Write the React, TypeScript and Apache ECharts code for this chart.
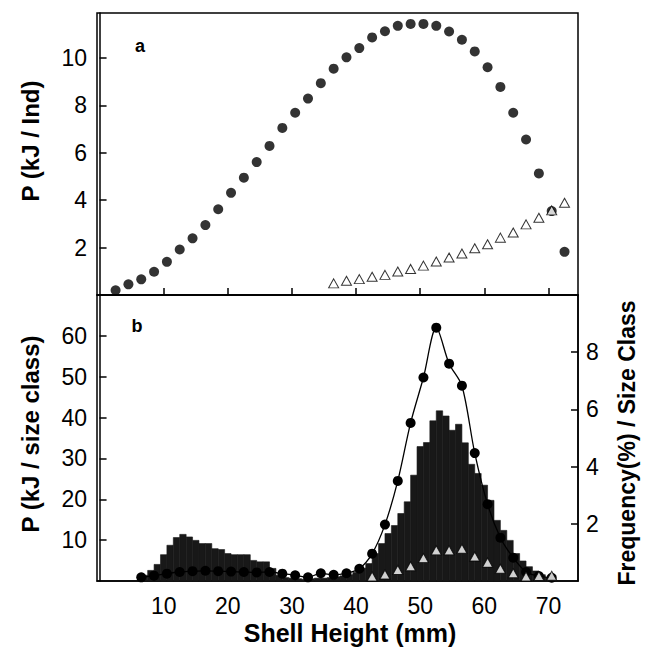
import React, { useEffect, useRef } from 'react';
import * as echarts from 'echarts';

// ---- Data ----
const xTicks = [10, 20, 30, 40, 50, 60, 70];
const topYTicks = [2, 4, 6, 8, 10];
const botLeftTicks = [10, 20, 30, 40, 50, 60];
const botRightTicks = [2, 4, 6, 8];

// Panel a: production per individual
const topCircleX = [2.5, 4.5, 6.5, 8.5, 10.5, 12.5, 14.5, 16.5, 18.5, 20.5, 22.5, 24.5, 26.5, 28.5, 30.5, 32.5, 34.5, 36.5, 38.5, 40.5, 42.5, 44.5, 46.5, 48.5, 50.5, 52.5, 54.5, 56.5, 58.5, 60.5, 62.5, 64.5, 66.5, 68.5, 70.5, 72.5];
const topCircleY = [0.2, 0.45, 0.66, 0.98, 1.4, 1.92, 2.39, 2.95, 3.62, 4.31, 4.95, 5.61, 6.29, 7.05, 7.69, 8.29, 8.94, 9.55, 10.03, 10.42, 10.87, 11.13, 11.36, 11.44, 11.44, 11.36, 11.12, 10.77, 10.28, 9.61, 8.78, 7.69, 6.56, 5.13, 3.54, 1.82];
const topTriX = [36.5, 38.5, 40.5, 42.5, 44.5, 46.5, 48.5, 50.5, 52.5, 54.5, 56.5, 58.5, 60.5, 62.5, 64.5, 66.5, 68.5, 70.5, 72.5];
const topTriY = [0.49, 0.6, 0.67, 0.77, 0.85, 0.99, 1.1, 1.24, 1.41, 1.58, 1.75, 1.97, 2.14, 2.42, 2.64, 2.98, 3.26, 3.57, 3.89];

// Panel b: production per size class (left axis)
const botCircleX = [6.5, 8.5, 10.5, 12.5, 14.5, 16.5, 18.5, 20.5, 22.5, 24.5, 26.5, 28.5, 30.5, 32.5, 34.5, 36.5, 38.5, 40.5, 42.5, 44.5, 46.5, 48.5, 50.5, 52.5, 54.5, 56.5, 58.5, 60.5, 62.5, 64.5, 66.5, 68.5, 70.5];
const botCircleY = [0.9, 1.3, 1.8, 2.2, 2.4, 2.5, 2.4, 2.3, 2.2, 2.1, 2.2, 1.8, 1.4, 0.9, 1.9, 1.5, 1.9, 3.0, 6.7, 13.8, 24.5, 38.7, 49.8, 62.0, 53.2, 47.8, 31.3, 18.8, 10.6, 5.7, 2.2, 1.2, 0.8];
const botTriX = [42.5, 44.5, 46.5, 48.5, 50.5, 52.5, 54.5, 56.5, 58.5, 60.5, 62.5, 64.5, 66.5, 68.5, 70.5];
const botTriY = [1.1, 1.6, 2.7, 3.6, 5.6, 7.5, 7.5, 7.9, 6.0, 4.5, 3.0, 1.9, 1.1, 1.2, 1.3];

// Frequency histogram (right axis, %), 1-mm size classes
const histBins = [7, 8, 9, 10, 11, 12, 13, 14, 15, 16, 17, 18, 19, 20, 21, 22, 23, 24, 25, 26, 27, 28, 29, 30, 31, 32, 33, 34, 35, 36, 37, 38, 39, 40, 41, 42, 43, 44, 45, 46, 47, 48, 49, 50, 51, 52, 53, 54, 55, 56, 57, 58, 59, 60, 61, 62, 63, 64, 65, 66, 67, 68, 69, 70];
const histFreq = [0.2, 0.37, 0.58, 0.92, 1.25, 1.52, 1.63, 1.54, 1.42, 1.31, 1.31, 1.13, 1.1, 0.96, 0.92, 0.92, 0.92, 0.72, 0.67, 0.67, 0.44, 0.2, 0.12, 0.1, 0.08, 0.06, 0.08, 0.1, 0.1, 0.12, 0.15, 0.18, 0.22, 0.3, 0.45, 0.61, 0.96, 1.31, 1.66, 1.94, 2.36, 2.77, 3.7, 4.7, 4.84, 5.6, 5.95, 5.77, 5.27, 5.48, 4.83, 4.08, 3.76, 3.35, 2.82, 2.12, 1.77, 1.42, 0.96, 0.7, 0.5, 0.35, 0.22, 0.12];

const FONT = "'Liberation Sans', Arial, Helvetica, sans-serif";

export default function App() {
  const ref = useRef<HTMLDivElement>(null);

  useEffect(() => {
    if (!ref.current) return;
    const chart = echarts.init(ref.current, undefined, { renderer: 'svg' });

    const axisLine = { show: true, lineStyle: { color: '#000', width: 1.5 } };
    const tickStyle = { color: '#000', width: 1.5 };
    const labelStyle = { color: '#000', fontSize: 23, fontFamily: FONT };

    const option: any = {
      animation: false,
      backgroundColor: '#fff',
      textStyle: { fontFamily: FONT, color: '#000' },
      grid: [
        { left: 97, right: 67, top: 13, height: 282, show: true, borderColor: '#000', borderWidth: 1.5 },
        { left: 97, right: 67, top: 295, height: 286, show: true, borderColor: '#000', borderWidth: 1.5 },
      ],
      xAxis: [
        {
          gridIndex: 0, type: 'value', min: -0.4, max: 74.6,
          axisLine, splitLine: { show: false },
          axisTick: { show: true, inside: true, length: 7, lineStyle: tickStyle, customValues: xTicks },
          axisLabel: { show: false },
        },
        {
          gridIndex: 1, type: 'value', min: -0.4, max: 74.6,
          axisLine, splitLine: { show: false },
          axisTick: { show: false },
          axisLabel: { ...labelStyle, margin: 13, customValues: xTicks },
        },
      ],
      yAxis: [
        {
          gridIndex: 0, type: 'value', min: 0, max: 11.9,
          axisLine, splitLine: { show: false },
          axisTick: { show: true, inside: true, length: 7, lineStyle: tickStyle, customValues: topYTicks },
          axisLabel: { ...labelStyle, margin: 10, customValues: topYTicks },
        },
        {
          gridIndex: 1, type: 'value', min: 0, max: 70, position: 'left',
          axisLine, splitLine: { show: false },
          axisTick: { show: true, inside: true, length: 7, lineStyle: tickStyle, customValues: botLeftTicks },
          axisLabel: { ...labelStyle, margin: 10, customValues: botLeftTicks },
        },
        {
          gridIndex: 1, type: 'value', min: 0, max: 10, position: 'right',
          axisLine, splitLine: { show: false },
          axisTick: { show: true, inside: true, length: 7, lineStyle: tickStyle, customValues: botRightTicks },
          axisLabel: { ...labelStyle, margin: 8, customValues: botRightTicks },
        },
      ],
      series: [
        {
          type: 'custom',
          xAxisIndex: 1, yAxisIndex: 2,
          data: histBins.map((b, i) => [b, histFreq[i]]),
          encode: { x: 0, y: 1 },
          z: 1,
          renderItem: (params: any, api: any) => {
            const x = api.value(0);
            const y = api.value(1);
            const p1 = api.coord([x - 0.5, y]);
            const p2 = api.coord([x + 0.5, 0]);
            return {
              type: 'rect',
              shape: { x: p1[0], y: p1[1], width: p2[0] - p1[0], height: p2[1] - p1[1] },
              style: { fill: '#181818', stroke: '#181818', lineWidth: 0.6 },
            };
          },
        },
        {
          type: 'line',
          xAxisIndex: 1, yAxisIndex: 1,
          data: botCircleX.map((x, i) => [x, botCircleY[i]]),
          smooth: 0.3,
          symbol: 'circle', symbolSize: 10, showSymbol: true,
          lineStyle: { color: '#000', width: 1.3 },
          itemStyle: { color: '#000' },
          clip: false, z: 3,
        },
        {
          type: 'scatter',
          xAxisIndex: 1, yAxisIndex: 1,
          data: botTriX.map((x, i) => [x, botTriY[i]]),
          symbol: 'triangle', symbolSize: [10, 9],
          itemStyle: { color: '#fff', borderColor: '#000', borderWidth: 1 },
          clip: false, z: 4,
        },
        {
          type: 'scatter',
          xAxisIndex: 0, yAxisIndex: 0,
          data: topCircleX.map((x, i) => [x, topCircleY[i]]),
          symbol: 'circle', symbolSize: 10,
          itemStyle: { color: '#000' },
          clip: false, z: 3,
        },
        {
          type: 'scatter',
          xAxisIndex: 0, yAxisIndex: 0,
          data: topTriX.map((x, i) => [x, topTriY[i]]),
          symbol: 'triangle', symbolSize: [10, 9],
          itemStyle: { color: '#fff', borderColor: '#000', borderWidth: 1 },
          clip: false, z: 4,
        },
      ],
      graphic: [
        {
          type: 'text', x: 30, y: 141, rotation: Math.PI / 2,
          style: { text: 'P (kJ / Ind)', font: `bold 24px ${FONT}`, fill: '#000', align: 'center', verticalAlign: 'middle' },
        },
        {
          type: 'text', x: 30, y: 434, rotation: Math.PI / 2,
          style: { text: 'P (kJ / size class)', font: `bold 24px ${FONT}`, fill: '#000', align: 'center', verticalAlign: 'middle' },
        },
        {
          type: 'text', x: 627, y: 443, rotation: Math.PI / 2,
          style: { text: 'Frequency(%) / Size Class', font: `bold 23px ${FONT}`, fill: '#000', align: 'center', verticalAlign: 'middle' },
        },
        {
          type: 'text', x: 350, y: 633,
          style: { text: 'Shell Height (mm)', font: `bold 25px ${FONT}`, fill: '#000', align: 'center', verticalAlign: 'middle' },
        },
        {
          type: 'text', x: 140, y: 46,
          style: { text: 'a', font: `bold 18px ${FONT}`, fill: '#000', align: 'center', verticalAlign: 'middle' },
        },
        {
          type: 'text', x: 137, y: 326,
          style: { text: 'b', font: `bold 18px ${FONT}`, fill: '#000', align: 'center', verticalAlign: 'middle' },
        },
      ],
    };

    chart.setOption(option);
    return () => chart.dispose();
  }, []);

  return (
    <div
      ref={ref}
      style={{ position: 'fixed', left: 0, top: 0, width: 645, height: 647, background: '#fff' }}
    />
  );
}
